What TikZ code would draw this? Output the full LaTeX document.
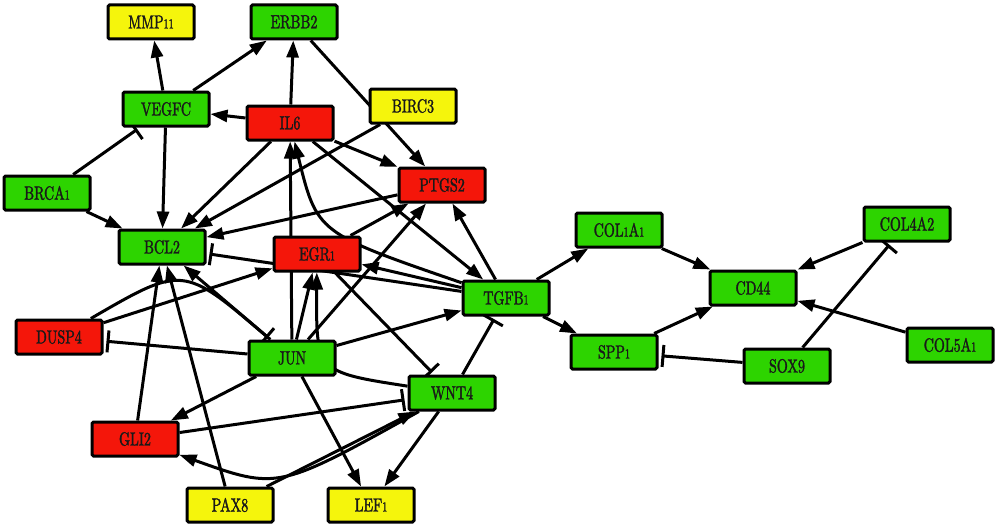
\documentclass[tikz,border=0pt]{standalone}
\usepackage{graphicx}
\usetikzlibrary{arrows.meta}
\definecolor{geneG}{RGB}{45,212,0}
\definecolor{geneR}{RGB}{244,22,10}
\definecolor{geneY}{RGB}{245,245,12}
\font\genefnt="[lmroman10-regular.otf]:embolden=1.6;extend=0.74" at 19pt
\newcommand\gtxt[1]{#1}
\newcommand\dOne{\scalebox{0.72}{1}}
\pgfdeclarelayer{edgelayer}
\pgfsetlayers{edgelayer,main}
\tikzset{
  gene/.style={draw=black, line width=3pt, rounded corners=1.5pt,
    minimum width=86pt, minimum height=34pt, inner sep=0pt,
    font=\genefnt, text=black!90},
  gg/.style={gene, fill=geneG},
  gr/.style={gene, fill=geneR},
  gy/.style={gene, fill=geneY},
  act/.style={line width=3pt, -{Triangle[length=17pt,width=12pt]}},
  inh/.style={line width=3pt, -{Bar[width=22pt,line width=3pt]}, shorten >=3pt},
}
\begin{document}
\begin{tikzpicture}[x=1pt,y=-1pt]
\useasboundingbox (0,0) rectangle (1000,527);
% nodes
\node[gy] (MMP11) at (151,22) {\gtxt{MMP\dOne\dOne}};
\node[gg] (ERBB2) at (294,22) {\gtxt{ERBB2}};
\node[gg] (VEGFC) at (166,109) {\gtxt{VEGFC}};
\node[gr] (IL6) at (290,123) {\gtxt{IL6}};
\node[gy] (BIRC3) at (413,106) {\gtxt{BIRC3}};
\node[gg] (BRCA1) at (47,193) {\gtxt{BRCA\dOne}};
\node[gr] (PTGS2) at (442,185) {\gtxt{PTGS2}};
\node[gg] (BCL2) at (162,247) {\gtxt{BCL2}};
\node[gr] (EGR1) at (317,254) {\gtxt{EGR\dOne}};
\node[gg] (TGFB1) at (506,298) {\gtxt{TGFB\dOne}};
\node[gr] (DUSP4) at (59,337) {\gtxt{DUSP4}};
\node[gg] (JUN) at (292,358) {\gtxt{JUN}};
\node[gg] (WNT4) at (452,393) {\gtxt{WNT4}};
\node[gr] (GLI2) at (135,439) {\gtxt{GLI2}};
\node[gy] (PAX8) at (230,505) {\gtxt{PAX8}};
\node[gy] (LEF1) at (371,505) {\gtxt{LEF\dOne}};
\node[gg] (COL1A1) at (619,230) {\gtxt{COL\dOne A\dOne}};
\node[gg] (CD44) at (753,288) {\gtxt{CD44}};
\node[gg] (COL4A2) at (907,224) {\gtxt{COL4A2}};
\node[gg] (SPP1) at (614,352) {\gtxt{SPP\dOne}};
\node[gg] (SOX9) at (787,366) {\gtxt{SOX9}};
\node[gg] (COL5A1) at (950,345) {\gtxt{COL5A\dOne}};
% edges
\begin{pgfonlayer}{edgelayer}
\draw[act] (VEGFC) -- (MMP11);
\draw[act] (VEGFC) -- (ERBB2);
\draw[act] (IL6) -- (ERBB2);
\draw[act] (IL6) -- (VEGFC);
\draw[act] (VEGFC) -- (BCL2);
\draw[act] (BRCA1) -- (BCL2);
\draw[act] (IL6) -- (BCL2);
\draw[act] (IL6) -- (PTGS2);
\draw[act] (IL6) -- (TGFB1);
\draw[act] (ERBB2) -- (PTGS2);
\draw[act] (BIRC3) -- (BCL2);
\draw[act] (PTGS2) -- (BCL2);
\draw[act] (JUN) -- (IL6);
\draw[act] (TGFB1) .. controls (317,233) .. (IL6);
\draw[act] (TGFB1) -- (EGR1);
\draw[act] (DUSP4) -- (EGR1);
\draw[act] (JUN) -- (EGR1);
\draw[act] (WNT4) .. controls (316,372) .. (EGR1);
\draw[act] (JUN) -- (PTGS2);
\draw[act] (JUN) -- (TGFB1);
\draw[act] (EGR1) -- (PTGS2);
\draw[act] (TGFB1) -- (PTGS2);
\draw[act] (JUN) -- (BCL2);
\draw[act] (GLI2) -- (BCL2);
\draw[act] (PAX8) -- (BCL2);
\draw[act] (JUN) -- (GLI2);
\draw[act] (WNT4) .. controls (278,490) .. (GLI2);
\draw[act] (PAX8) -- (WNT4);
\draw[act] (WNT4) -- (LEF1);
\draw[act] (JUN) -- (LEF1);
\draw[act] (TGFB1) -- (COL1A1);
\draw[act] (TGFB1) -- (SPP1);
\draw[act] (COL1A1) -- (CD44);
\draw[act] (SPP1) -- (CD44);
\draw[act] (COL4A2) -- (CD44);
\draw[act] (COL5A1) -- (CD44);
\draw[inh] (BRCA1) -- (VEGFC);
\draw[inh] (TGFB1) -- (BCL2);
\draw[inh] (JUN) -- (DUSP4);
\draw[inh] (DUSP4) .. controls (183,265) .. (JUN);
\draw[inh] (GLI2) -- (WNT4);
\draw[inh] (EGR1) -- (WNT4);
\draw[inh] (WNT4) -- (TGFB1);
\draw[inh] (SOX9) -- (COL4A2);
\draw[inh] (SOX9) -- (SPP1);
\end{pgfonlayer}
\end{tikzpicture}
\end{document}
